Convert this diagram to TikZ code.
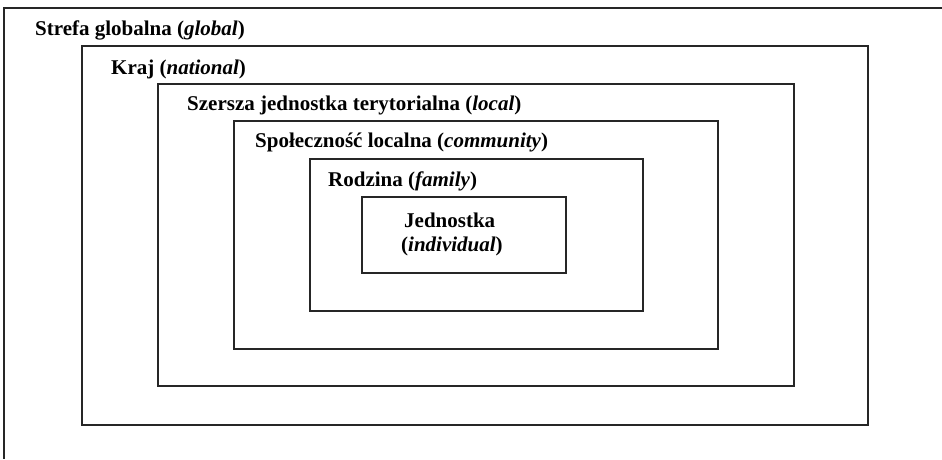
\documentclass[tikz,border=0pt]{standalone}
\usepackage{fontspec}
\setmainfont{Liberation Serif}
\begin{document}
\begin{tikzpicture}[x=1pt,y=-1pt,
  frame/.style={draw=black!85,line width=1.5pt},
  lbl/.style={anchor=base west,inner sep=0pt,font=\fontsize{21}{24}\selectfont\bfseries}]
\useasboundingbox (0,0) rectangle (942,459);
\draw[frame] (942,8) -- (4,8) -- (4,459);
\draw[frame] (82,46) rectangle (868,425);
\draw[frame] (158,84) rectangle (794,386);
\draw[frame] (234,121) rectangle (718,349);
\draw[frame] (310,159) rectangle (643,311);
\draw[frame] (362,197) rectangle (566,273);
\node[lbl] (glob) at (35,35) {Strefa globalna (\textit{global})};
\node[lbl] (kraj) at (111,74) {Kraj (\textit{national})};
\node[lbl] (loc) at (187,110) {Szersza jednostka terytorialna (\textit{local})};
\node[lbl] (comm) at (255,147) {Społeczność localna (\textit{community})};
\node[lbl] (fam) at (328,186) {Rodzina (\textit{family})};
\node[lbl] (ind1) at (404,227) {Jednostka};
\node[lbl] (ind2) at (401,251) {(\textit{individual})};
\end{tikzpicture}
\end{document}
